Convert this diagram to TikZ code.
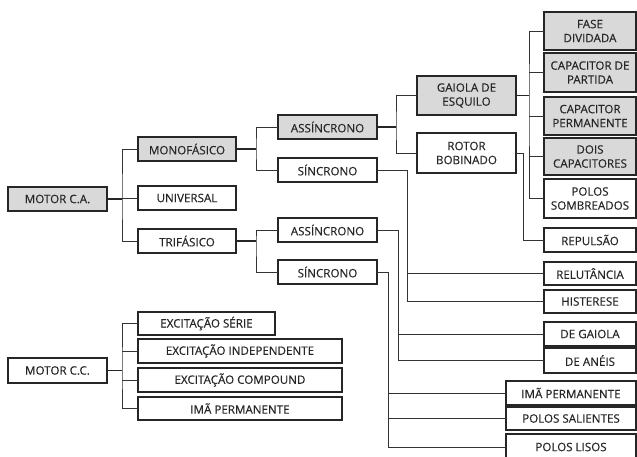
\documentclass[tikz,border=0pt]{standalone}
\usepackage{fontspec}
\setmainfont{Open Sans}
\newfontfamily\boxfont[FakeBold=0.35]{Open Sans}
\begin{document}
\begin{tikzpicture}[x=1pt,y=-1pt,
  box/.style={draw=black!85,line width=1.1pt,fill=white,inner sep=1pt,outer sep=0pt,
    anchor=north west,align=center,font=\boxfont\fontsize{11.6}{14}\selectfont,text=black!85},
  gbox/.style={box,fill=black!15},
  ln/.style={draw=black!80,line width=1pt},
  stub/.style={draw=black!85,line width=1.8pt}]
\useasboundingbox (0,0) rectangle (637,456);
\clip (0,0) rectangle (637,456);
% helper: box at (x1,y1) with size
\newcommand{\bx}[7]{\node[#1,minimum width=#4pt,minimum height=#5pt] (#2) at (#3) {#6};}
% level 0
\bx{gbox}{ca}{8,187}{99}{24}{MOTOR C.A.}{}
\bx{box}{cc}{8,358}{99}{25}{MOTOR C.C.}{}
% level 1 CA
\bx{gbox}{mono}{138,137}{98}{24}{MONOFÁSICO}{}
\bx{box}{univ}{138,186}{98}{24}{UNIVERSAL}{}
\bx{box}{tri}{138,229}{98}{24}{TRIFÁSICO}{}
% level 1 CC
\bx{box}{es}{138,312}{137}{23}{EXCITAÇÃO SÉRIE}{}
\bx{box}{ei}{138,339}{204}{24}{EXCITAÇÃO INDEPENDENTE}{}
\bx{box}{ec}{138,368}{204}{24}{EXCITAÇÃO COMPOUND}{}
\bx{box}{ip}{138,397}{204}{23}{IMÃ PERMANENTE}{}
% level 2
\bx{gbox}{asa}{278,115}{99}{24}{ASSÍNCRONO}{}
\bx{box}{sia}{278,158}{99}{24}{SÍNCRONO}{}
\bx{box}{asb}{278,218}{99}{24}{ASSÍNCRONO}{}
\bx{box}{sib}{278,260}{99}{24}{SÍNCRONO}{}
% level 3
\bx{gbox}{gai}{417,76}{99}{39}{GAIOLA DE\\ESQUILO}{}
\bx{box}{rot}{417,133}{99}{40}{ROTOR\\BOBINADO}{}
% right column
\bx{gbox}{fd}{544,12}{92}{38}{FASE\\DIVIDADA}{}
\bx{gbox}{cp}{544,53}{92}{39}{CAPACITOR DE\\PARTIDA}{}
\bx{gbox}{cpe}{544,97}{92}{38}{CAPACITOR\\PERMANENTE}{}
\bx{gbox}{dc}{544,138}{92}{37}{DOIS\\CAPACITORES}{}
\bx{box}{ps}{544,179}{92}{39}{POLOS\\SOMBREADOS}{}
\bx{box}{rep}{544,228}{92}{24}{REPULSÃO}{}
\bx{box}{rel}{544,262}{92}{23}{RELUTÂNCIA}{}
\bx{box}{his}{544,290}{92}{23}{HISTERESE}{}
\bx{box}{dg}{544,322}{92}{24}{DE GAIOLA}{}
\bx{box}{da}{544,348}{92}{25}{DE ANÉIS}{}
\bx{box}{imp}{506,381}{130}{24}{IMÃ PERMANENTE}{}
\bx{box}{psa}{506,407}{130}{23}{POLOS SALIENTES}{}
\bx{box}{pl}{506,434}{130}{26}{POLOS LISOS}{}
% junction coordinates
\coordinate (j0) at (122,0);
\coordinate (j1) at (256,0);
\coordinate (j2) at (396,0);
\coordinate (j3) at (529,0);
\coordinate (j4) at (523,0);
\coordinate (j5) at (407,0);
\coordinate (j6) at (398,0);
\coordinate (j7) at (388,0);
% connectors CA
\draw[stub] (ca.east) -- (ca.east -| j0);
\draw[ln] (mono.west) -| (j0 |- univ.west) |- (tri.west);
\draw[ln] (j0 |- univ.west) -- (univ.west);
\draw[stub] (mono.east) -- (mono.east -| j1);
\draw[ln] (asa.west) -| (j1 |- mono.east) |- (sia.west);
\draw[stub] (tri.east) -- (tri.east -| j1);
\draw[ln] (asb.west) -| (j1 |- tri.east) |- (sib.west);
\draw[stub] (asa.east) -- (asa.east -| j2);
\draw[ln] (gai.west) -| (j2 |- asa.east) |- (rot.west);
\draw[stub] (gai.east) -- (gai.east -| j3);
\draw[ln] (fd.west) -| (j3 |- gai.east) |- (ps.west);
\draw[ln] (j3 |- cp.west) -- (cp.west);
\draw[ln] (j3 |- cpe.west) -- (cpe.west);
\draw[ln] (j3 |- dc.west) -- (dc.west);
\draw[ln] (rot.east) -| (j4 |- rep.west) -- (rep.west);
\draw[ln] (sia.east) -| (j5 |- his.west) -- (his.west);
\draw[ln] (j5 |- rel.west) -- (rel.west);
\draw[ln] (asb.east) -| (j6 |- da.west) -- (da.west);
\draw[ln] (j6 |- dg.west) -- (dg.west);
\draw[ln] (sib.east) -| (j7 |- pl.west) -- (pl.west);
\draw[ln] (j7 |- imp.west) -- (imp.west);
\draw[ln] (j7 |- psa.west) -- (psa.west);
% connectors CC
\draw[stub] (cc.east) -- (cc.east -| j0);
\draw[ln] (es.west) -| (j0 |- cc.east) |- (ip.west);
\draw[ln] (j0 |- ei.west) -- (ei.west);
\draw[ln] (j0 |- ec.west) -- (ec.west);
\end{tikzpicture}
\end{document}
